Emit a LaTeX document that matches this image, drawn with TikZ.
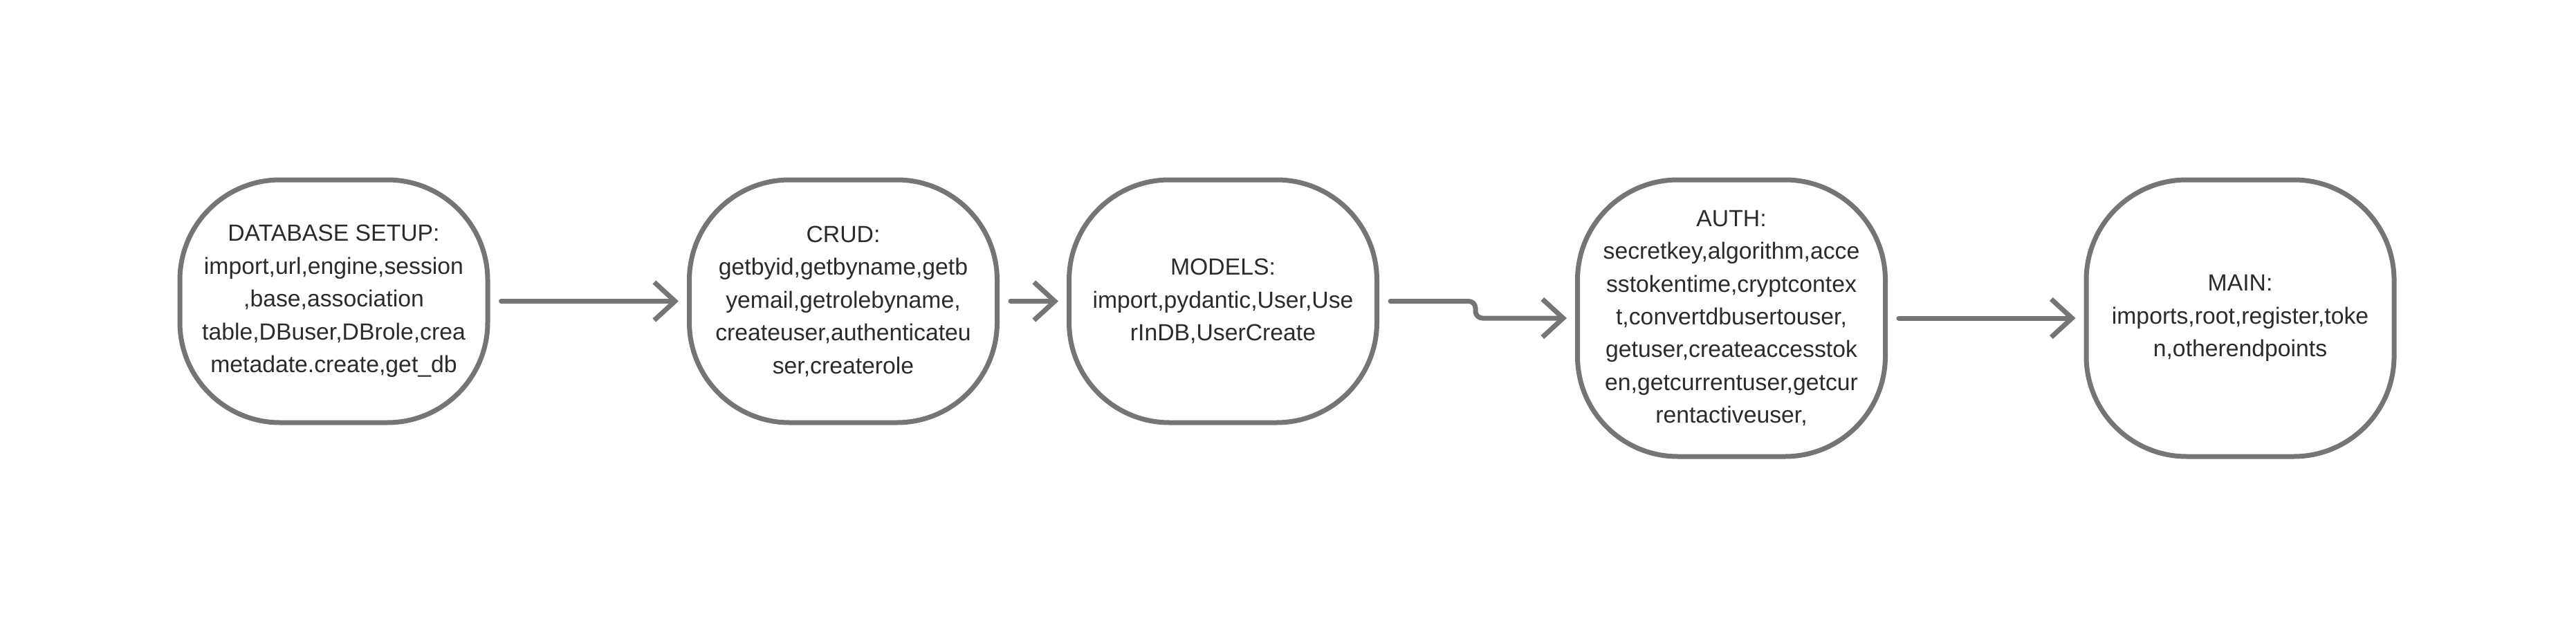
\documentclass[tikz,border=0pt]{standalone}
\usepackage{fontspec}
\setmainfont{Liberation Sans}
\usetikzlibrary{arrows.meta}

\definecolor{edgegray}{HTML}{757575}
\definecolor{textgray}{HTML}{2B2B2B}

\begin{document}
\begin{tikzpicture}[
  module/.style={draw=edgegray, line width=0.07cm, rounded corners=1.45cm, fill=white,
    minimum width=4.45cm, minimum height=3.51cm, inner sep=0pt, align=center,
    text=textgray, font=\fontsize{9.6}{13.5}\selectfont},
  tallmodule/.style={module, minimum height=4.0cm},
  flow/.style={draw=edgegray, line width=0.07cm, line cap=round, line join=round,
    -{Straight Barb[length=0.3cm, width=0.55cm]}, shorten <=0.16cm, shorten >=0.12cm}
]

% Page
\path[fill=white] (0,0) rectangle (37.24,9.2);

% Modules
\node[module] (dbsetup) at (4.825,4.845)
  {DATABASE SETUP:\\import,url,engine,session\\,base,association\\table,DBuser,DBrole,crea\\metadate.create,get\_db};
\node[module] (crud) at (12.19,4.845)
  {CRUD:\\getbyid,getbyname,getb\\yemail,getrolebyname,\\createuser,authenticateu\\ser,createrole};
\node[module] (models) at (17.68,4.845)
  {MODELS:\\import,pydantic,User,Use\\rInDB,UserCreate};
\node[tallmodule] (auth) at (25.03,4.60)
  {AUTH:\\secretkey,algorithm,acce\\sstokentime,cryptcontex\\t,convertdbusertouser,\\getuser,createaccesstok\\en,getcurrentuser,getcur\\rentactiveuser,};
\node[tallmodule] (main) at (32.385,4.60)
  {MAIN:\\imports,root,register,toke\\n,otherendpoints};

% Flow
\draw[flow] (dbsetup.east) -- (crud.west);
\draw[flow] (crud.east) -- (models.west);
\draw[flow, rounded corners=0.1cm] (models.east) -- ++(1.39,0) |- (auth.west);
\draw[flow] (auth.east) -- (main.west);

\end{tikzpicture}
\end{document}
